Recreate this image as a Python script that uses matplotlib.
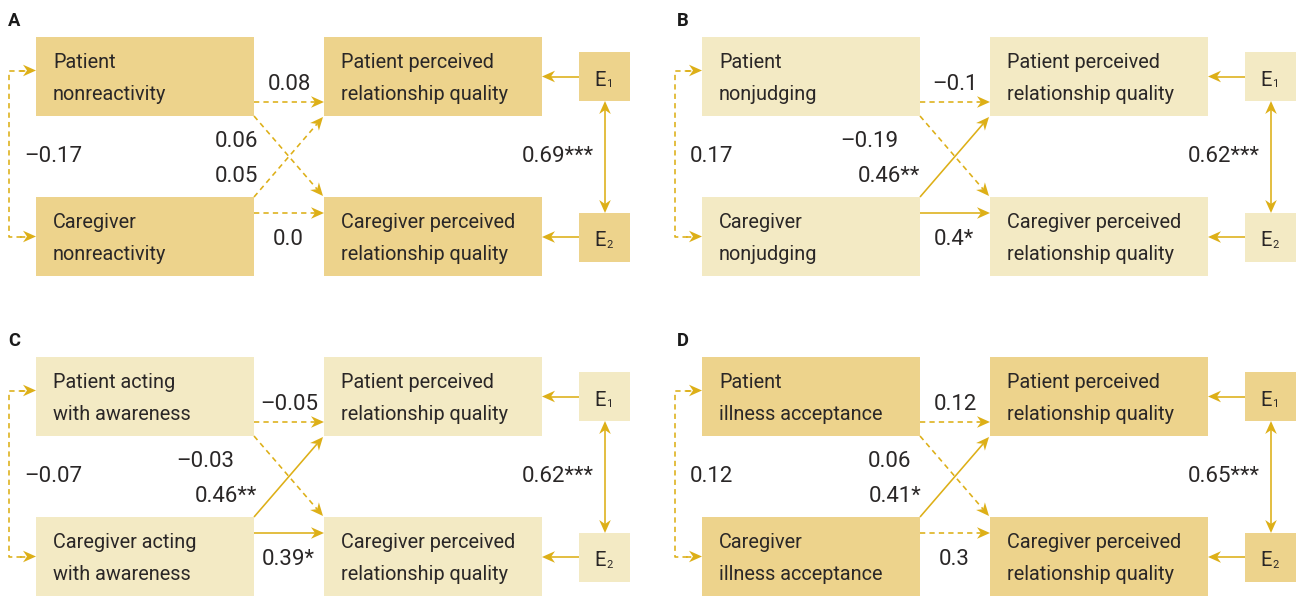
import numpy as np
import matplotlib
matplotlib.use("Agg")
import matplotlib.pyplot as plt
from matplotlib.patches import Rectangle, Polygon

# ---------------- data ----------------
panel_letters = ["A", "B", "C", "D"]
patient_predictor = ["Patient\nnonreactivity", "Patient\nnonjudging",
                     "Patient acting\nwith awareness", "Patient\nillness acceptance"]
caregiver_predictor = ["Caregiver\nnonreactivity", "Caregiver\nnonjudging",
                       "Caregiver acting\nwith awareness", "Caregiver\nillness acceptance"]
outcome_patient = "Patient perceived\nrelationship quality"
outcome_caregiver = "Caregiver perceived\nrelationship quality"

pp_beta = [0.08, -0.1, -0.05, 0.12]      # patient -> patient outcome
pp_sig = ["", "", "", ""]
pc_beta = [0.06, -0.19, -0.03, 0.06]     # patient -> caregiver outcome
pc_sig = ["", "", "", ""]
cp_beta = [0.05, 0.46, 0.46, 0.41]       # caregiver -> patient outcome
cp_sig = ["", "**", "**", "*"]
cc_beta = [0.0, 0.4, 0.39, 0.3]          # caregiver -> caregiver outcome
cc_sig = ["", "*", "*", ""]
pred_corr = [-0.17, 0.17, -0.07, 0.12]   # predictor covariance
pred_corr_sig = ["", "", "", ""]
err_corr = [0.69, 0.62, 0.62, 0.65]      # residual covariance
err_corr_sig = ["***", "***", "***", "***"]

# ---------------- style / layout ----------------
DARK = "#EDD38C"
LIGHT = "#F3EAC4"
GOLD = "#DDAF17"
TXT = "#2a2727"
panel_fill = [DARK, LIGHT, LIGHT, DARK]
panel_origin = [(0, 0), (666, 0), (0, 320), (666, 320)]
letter_x = [8, 11, 8, 11]
# right-edge x of the two crossing labels (upper, lower) per panel
cross_lab_x = [(258, 258), (232, 254), (234, 257), (245, 256)]

FONT = ["Roboto", "DejaVu Sans"]
BOX_FS = 14.3
NUM_FS = 16
LW = 1.15
DASH = (0, (3.3, 2.6))

fig = plt.figure(figsize=(12.99, 5.96), dpi=100)
ax = fig.add_axes([0, 0, 1, 1])
ax.set_xlim(0, 1299)
ax.set_ylim(596, 0)
ax.axis("off")


def fmt(v, s):
    return str(v).replace("-", "\u2013") + s


def head(tip, d):
    d = np.asarray(d, float)
    d = d / np.hypot(*d)
    n = np.array([-d[1], d[0]])
    L, W, N = 13.0, 5.8, 4.0
    t = np.asarray(tip, float)
    pts = [t, t - L * d + W * n, t - (L - N) * d, t - L * d - W * n]
    ax.add_patch(Polygon(pts, closed=True, facecolor=GOLD, edgecolor="none", zorder=4))
    return t - (L - N) * d


def arrow(p0, p1, solid=True, both=False):
    p0 = np.asarray(p0, float)
    p1 = np.asarray(p1, float)
    e1 = head(p1, p1 - p0)
    e0 = head(p0, p0 - p1) if both else p0
    ax.plot([e0[0], e1[0]], [e0[1], e1[1]], color=GOLD, lw=LW,
            ls="-" if solid else DASH, solid_capstyle="butt", zorder=3)


def box(x0, y0, x1, y1, fill, text, tx=None):
    ax.add_patch(Rectangle((x0, y0), x1 - x0, y1 - y0, facecolor=fill,
                           edgecolor="none", zorder=1))
    lines = text.split("\n")
    for i, ln in enumerate(lines):
        ax.text(x0 + 17, y0 + 31.5 + 31.5 * i, ln, fontsize=BOX_FS, color=TXT,
                family=FONT, ha="left", va="baseline", zorder=5)


for k in range(4):
    ox, oy = panel_origin[k]
    fill = panel_fill[k]
    X = lambda x: ox + x
    Y = lambda y: oy + y

    ax.text(X(letter_x[k]), Y(26), panel_letters[k], fontsize=13.2, fontweight="bold",
            family=FONT, color="#1a1a1a", ha="left", va="baseline")

    # boxes
    box(X(36), Y(37), X(254), Y(116), fill, patient_predictor[k])
    box(X(36), Y(197), X(254), Y(276), fill, caregiver_predictor[k])
    box(X(324), Y(37), X(542), Y(116), fill, outcome_patient)
    box(X(324), Y(197), X(542), Y(276), fill, outcome_caregiver)
    for (ey, sub) in [(52, "1"), (213, "2")]:
        ax.add_patch(Rectangle((X(579), Y(ey)), 51, 49, facecolor=fill,
                               edgecolor="none", zorder=1))
        ax.text(X(606), Y(ey + 33.5), "E", fontsize=14.6, family=FONT, color=TXT,
                ha="right", va="baseline", zorder=5)
        ax.text(X(606.5), Y(ey + 35), sub, fontsize=8, family=FONT, color=TXT,
                ha="left", va="baseline", zorder=5)

    # paths
    arrow((X(254), Y(102)), (X(324), Y(102)), solid=bool(pp_sig[k]))
    arrow((X(254), Y(116)), (X(323), Y(196)), solid=bool(pc_sig[k]))
    arrow((X(254), Y(197)), (X(323), Y(117)), solid=bool(cp_sig[k]))
    arrow((X(254), Y(213)), (X(324), Y(213)), solid=bool(cc_sig[k]))

    # residuals
    arrow((X(579), Y(76.5)), (X(542), Y(76.5)))
    arrow((X(579), Y(237)), (X(542), Y(237)))
    arrow((X(605), Y(101)), (X(605), Y(213)), both=True)

    # predictor covariance bracket
    ax.plot([X(24), X(9.5), X(9.5), X(24)], [Y(70.5), Y(70.5), Y(236.5), Y(236.5)],
            color=GOLD, lw=LW, ls=DASH, zorder=3)
    arrow((X(20), Y(70.5)), (X(36), Y(70.5)), solid=False)
    arrow((X(20), Y(236.5)), (X(36), Y(236.5)), solid=False)

    # labels
    ax.text(X(289), Y(90), fmt(pp_beta[k], pp_sig[k]), fontsize=NUM_FS, family=FONT,
            color=TXT, ha="center", va="baseline")
    ax.text(X(288), Y(245), fmt(cc_beta[k], cc_sig[k]), fontsize=NUM_FS, family=FONT,
            color=TXT, ha="center", va="baseline")
    ax.text(X(cross_lab_x[k][0]), Y(147), fmt(pc_beta[k], pc_sig[k]), fontsize=NUM_FS,
            family=FONT, color=TXT, ha="right", va="baseline")
    ax.text(X(cross_lab_x[k][1]), Y(182), fmt(cp_beta[k], cp_sig[k]), fontsize=NUM_FS,
            family=FONT, color=TXT, ha="right", va="baseline")
    ax.text(X(24), Y(162), fmt(pred_corr[k], pred_corr_sig[k]), fontsize=NUM_FS,
            family=FONT, color=TXT, ha="left", va="baseline")
    ax.text(X(594), Y(162), fmt(err_corr[k], err_corr_sig[k]), fontsize=NUM_FS,
            family=FONT, color=TXT, ha="right", va="baseline")

fig.savefig("out.png", dpi=100, facecolor="white")
